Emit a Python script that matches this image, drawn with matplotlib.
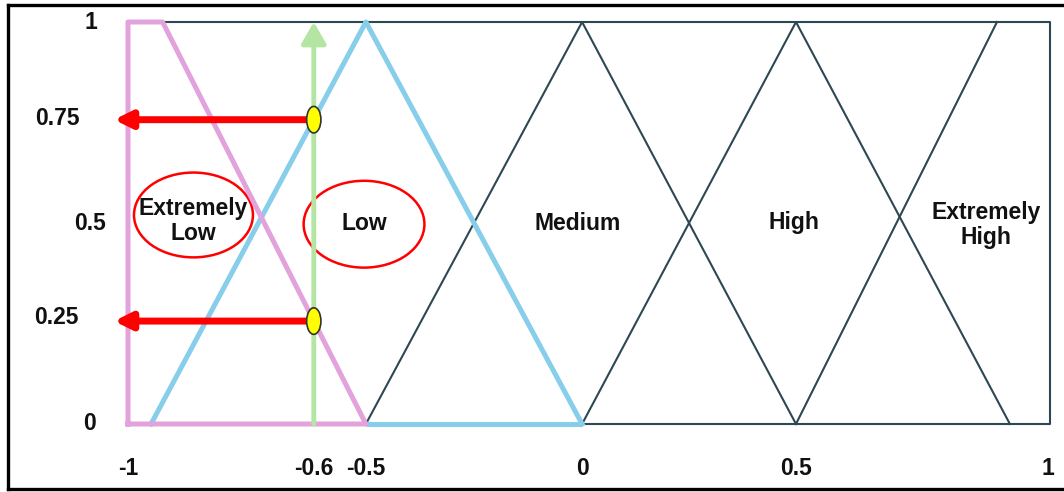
import numpy as np
import matplotlib.pyplot as plt
from matplotlib.patches import Ellipse
from matplotlib.lines import Line2D

plt.rcParams['font.family'] = ['Liberation Sans', 'DejaVu Sans']

# membership functions (x positions as drawn in the diagram, y = membership)
ext_low_x = [-1.0, -1.0, -0.925, -0.484, -1.0]
ext_low_y = [0, 1, 1, 0, 0]
low_x = [-0.95, -0.484, -0.015]
low_y = [0, 1, 0]
low_base_x = [-0.484, -0.015]
medium_x = [-0.484, -0.015, 0.449]
medium_y = [0, 1, 0]
high_x = [-0.015, 0.449, 0.913]
high_y = [0, 1, 0]
ext_high_x = [0.449, 0.885]
ext_high_y = [0, 1]
frame_x = [-0.925, 1.0, 1.0, -0.015]
frame_y = [1, 1, 0, 0]

# input value and memberships it produces
input_x = -0.597
memberships = [0.757, 0.256]

# tick positions and labels
xtick_pos = [-1.0, -0.597, -0.484, -0.015, 0.449, 0.995]
xtick_labels = ['-1', '-0.6', '-0.5', '0', '0.5', '1']
ytick_pos = [1, 0.76, 0.5, 0.265, 0]
ytick_labels = ['1', '0.75', '0.5', '0.25', '0']
ytick_px = [91, 57, 90, 56, 90]

# term labels
term_labels = ['Extremely\nLow', 'Low', 'Medium', 'High', 'Extremely\nHigh']
term_x = [-0.858, -0.488, -0.024, 0.445, 0.861]
term_y = [0.505, 0.5, 0.5, 0.5, 0.495]

DARK = '#2d4753'
PINK = '#e2a2dc'
BLUE = '#87ceeb'
GREEN = '#b5e5a2'

fig = plt.figure(figsize=(10.64, 4.92), dpi=100)
W, H = 1064, 492
ax = fig.add_axes([128 / W, (H - 424) / H, (1050 - 128) / W, (424 - 22) / H])
ax.set_xlim(-1, 1)
ax.set_ylim(0, 1)
ax.axis('off')

# outer frame of the picture (clipped on the right)
for xs, ys in [([8, W + 5], [489, 489]), ([8, 8], [5, 489]), ([8, W + 5], [5, 5])]:
    fig.add_artist(Line2D([x / W for x in xs], [1 - y / H for y in ys],
                          color='black', lw=2.4, transform=fig.transFigure))

# dark frame and triangles
ax.plot(frame_x, frame_y, color=DARK, lw=1.5, clip_on=False)
ax.plot(medium_x, medium_y, color=DARK, lw=1.5, clip_on=False)
ax.plot(high_x, high_y, color=DARK, lw=1.5, clip_on=False)
ax.plot(ext_high_x, ext_high_y, color=DARK, lw=1.5, clip_on=False)

# green input arrow
ax.annotate('', xy=(input_x, 1.0), xytext=(input_x, 0.0),
            arrowprops=dict(arrowstyle='-|>,head_length=1.3,head_width=0.75',
                            color=GREEN, lw=3.5, shrinkA=0, shrinkB=0),
            annotation_clip=False)

# blue low and pink extremely low
ax.plot(low_base_x, [0, 0], color=BLUE, lw=3.6, clip_on=False, solid_capstyle='butt')
ax.plot(low_x, low_y, color=BLUE, lw=3.6, clip_on=False)
ax.plot(ext_low_x, ext_low_y, color=PINK, lw=3.6, clip_on=False)

# red arrows to membership values
for m in memberships:
    ax.annotate('', xy=(-1.03, m), xytext=(input_x, m),
                arrowprops=dict(arrowstyle='-|>,head_length=1.0,head_width=0.5',
                                color='red', lw=5, shrinkA=0, shrinkB=0),
                annotation_clip=False)
    ax.add_patch(Ellipse((input_x, m), 0.031, 0.066, facecolor='yellow',
                         edgecolor='#333333', lw=1.2, zorder=5, clip_on=False))

# red ellipses
ax.add_patch(Ellipse((term_x[0], 0.52), 0.258, 0.211, fill=False,
                     edgecolor='red', lw=1.8, clip_on=False))
ax.add_patch(Ellipse((term_x[1], 0.497), 0.262, 0.216, fill=False,
                     edgecolor='red', lw=1.8, clip_on=False))

for lab, tx, ty in zip(term_labels, term_x, term_y):
    ax.text(tx, ty, lab, ha='center', va='center', fontsize=16.5,
            fontweight='bold', color='#111111', linespacing=1.1)

for pos, lab in zip(xtick_pos, xtick_labels):
    ax.text(pos, -0.11, lab, ha='center', va='center', fontsize=16.5,
            fontweight='bold', color='#111111', clip_on=False)

for pos, lab, px in zip(ytick_pos, ytick_labels, ytick_px):
    ax.text(px / W, pos * (424 - 22) / H + (H - 424) / H, lab,
            transform=fig.transFigure, ha='center', va='center',
            fontsize=16.5, fontweight='bold', color='#111111')

fig.savefig('out.png', dpi=100)
